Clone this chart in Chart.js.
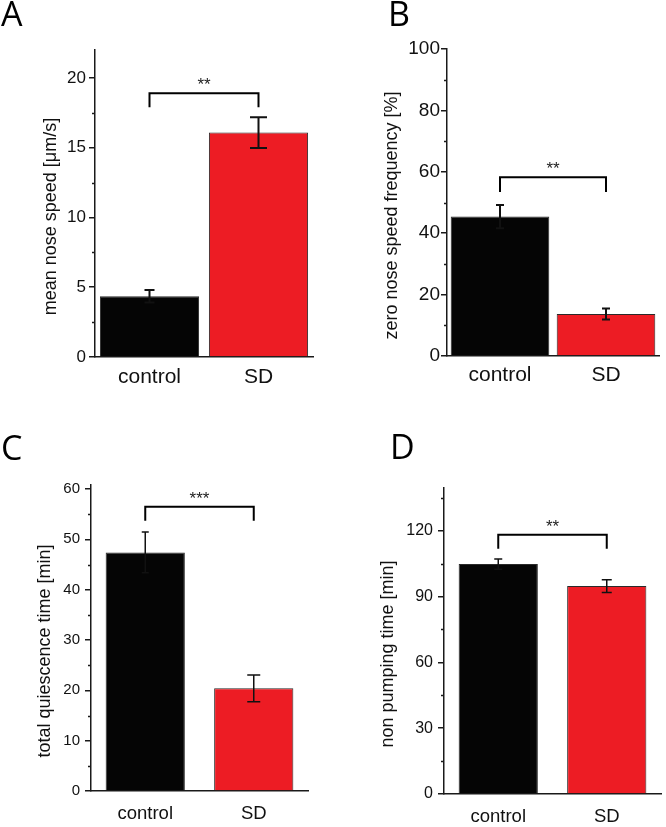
<!DOCTYPE html>
<html>
<head>
<meta charset="utf-8">
<script src="https://cdn.jsdelivr.net/npm/chart.js@4.4.1/dist/chart.umd.min.js"></script>
<style>
  body { margin: 0; background: #fff; }
  #page { position: relative; width: 666px; height: 827px; overflow: hidden; background: #fff; }
  .panel { position: absolute; }
  .letter { position: absolute; font-family: "Open Sans", sans-serif; font-size: 34px; line-height: 34px; color: #000; }
</style>
</head>
<body>
<div id="page">
  <div class="panel" style="left:0;top:0;width:333px;height:400px"><canvas id="chartA" width="333" height="400"></canvas></div>
  <div class="panel" style="left:333px;top:0;width:333px;height:400px"><canvas id="chartB" width="333" height="400"></canvas></div>
  <div class="panel" style="left:0;top:400px;width:333px;height:427px"><canvas id="chartC" width="333" height="427"></canvas></div>
  <div class="panel" style="left:333px;top:400px;width:333px;height:427px"><canvas id="chartD" width="333" height="427"></canvas></div>
  <div class="letter" style="left:1px;top:-4px">A</div>
  <div class="letter" style="left:388px;top:-4px">B</div>
  <div class="letter" style="left:1px;top:430px">C</div>
  <div class="letter" style="left:390px;top:429px">D</div>
</div>
<script>
// shared categories and bar colours
const categories = ['control', 'SD'];
const barColors = ['#050505', '#ed1c24'];

// A - mean nose speed
const speedMeans = [4.35, 16.08];
const speedErrors = [0.45, 1.1];
const speedBracket = [18.9, 17.9];   // bracket top, bracket ends
const speedTicks = [0, 5, 10, 15, 20];
const speedMinor = [2.5, 7.5, 12.5, 17.5];

// B - zero nose speed frequency
const zeroMeans = [45.4, 13.7];
const zeroErrors = [3.8, 1.8];
const zeroBracket = [58.2, 53.4];
const zeroTicks = [0, 20, 40, 60, 80, 100];
const zeroMinor = [10, 30, 50, 70, 90];

// C - total quiescence time
const quiescMeans = [47.4, 20.4];
const quiescErrors = [4.05, 2.65];
const quiescBracket = [56.5, 53.7];
const quiescTicks = [0, 10, 20, 30, 40, 50, 60];
const quiescMinor = [5, 15, 25, 35, 45, 55];

// D - non pumping time
const pumpMeans = [104.8, 94.8];
const pumpErrors = [2.3, 2.9];
const pumpBracket = [118.2, 111.8];
const pumpTicks = [0, 30, 60, 90, 120];
const pumpMinor = [15, 45, 75, 105, 135];

const AXIS = '#1a1a1a';
const FONT = '"Liberation Sans", Arial, sans-serif';

// error bars, significance bracket, minor ticks and rotated y title
function extrasPlugin(o) {
  return {
    id: 'extras',
    afterDatasetsDraw(chart) {
      const ctx = chart.ctx;
      const xs = chart.scales.x, ys = chart.scales.y;
      ctx.save();
      ctx.strokeStyle = '#111';
      ctx.lineWidth = o.errWidth;
      o.means.forEach((m, i) => {
        const x = xs.getPixelForValue(i);
        const top = ys.getPixelForValue(m + o.errors[i]);
        const bot = ys.getPixelForValue(m - o.errors[i]);
        const c = o.caps[i] / 2;
        ctx.beginPath();
        ctx.moveTo(x, top); ctx.lineTo(x, bot);
        ctx.moveTo(x - c, top); ctx.lineTo(x + c, top);
        ctx.moveTo(x - c, bot); ctx.lineTo(x + c, bot);
        ctx.stroke();
      });
      // bracket between the two bars
      const x1 = xs.getPixelForValue(0), x2 = xs.getPixelForValue(1);
      const yt = ys.getPixelForValue(o.bracket[0]);
      const ye = ys.getPixelForValue(o.bracket[1]);
      ctx.strokeStyle = '#000';
      ctx.lineWidth = 2;
      ctx.beginPath();
      ctx.moveTo(x1, ye); ctx.lineTo(x1, yt); ctx.lineTo(x2, yt); ctx.lineTo(x2, ye);
      ctx.stroke();
      ctx.fillStyle = '#222';
      ctx.font = o.starSize + 'px ' + FONT;
      ctx.textAlign = 'center';
      ctx.textBaseline = 'alphabetic';
      ctx.fillText(o.stars, (x1 + x2) / 2, yt - 3);
      ctx.restore();
    },
    afterDraw(chart) {
      const ctx = chart.ctx;
      const ys = chart.scales.y;
      ctx.save();
      ctx.strokeStyle = AXIS;
      ctx.lineWidth = 1.5;
      ctx.beginPath();
      o.minor.forEach(v => {
        const py = Math.round(ys.getPixelForValue(v)) + 0.5;
        ctx.moveTo(ys.right, py); ctx.lineTo(ys.right - 3, py);
      });
      ctx.stroke();
      ctx.fillStyle = '#111';
      ctx.font = '18px ' + FONT;
      ctx.textAlign = 'center';
      ctx.textBaseline = 'middle';
      ctx.translate(o.titleX, (ys.top + ys.bottom) / 2 + 13);
      ctx.rotate(-Math.PI / 2);
      ctx.fillText(o.title, 0, 0);
      ctx.restore();
    }
  };
}

function makePanel(id, p) {
  return new Chart(document.getElementById(id), {
    type: 'bar',
    data: {
      labels: categories,
      datasets: [{
        data: p.means,
        backgroundColor: barColors,
        borderColor: '#2a2a2a',
        borderWidth: 1,
        categoryPercentage: 1,
        barPercentage: p.barPct
      }]
    },
    options: {
      responsive: false,
      animation: false,
      events: [],
      layout: { padding: { top: p.padT, right: p.padR, bottom: 0, left: 0 } },
      plugins: { legend: { display: false }, tooltip: { enabled: false } },
      scales: {
        x: {
          grid: { display: false, drawTicks: false },
          border: { display: true, color: AXIS, width: 1.5 },
          ticks: { color: '#111', padding: p.xPad, font: { family: FONT, size: p.xFont } },
          afterFit: s => { s.height = p.xHeight; }
        },
        y: {
          min: 0,
          max: p.max,
          grid: { display: true, drawOnChartArea: false, drawTicks: true, tickLength: 6, color: AXIS, lineWidth: 1.5 },
          border: { display: true, color: AXIS, width: 1.5 },
          ticks: { color: '#111', padding: p.yPad, font: { family: FONT, size: p.yFont } },
          afterBuildTicks: s => { s.ticks = p.ticks.map(v => ({ value: v })); },
          afterFit: s => { s.width = p.yWidth; }
        }
      }
    },
    plugins: [extrasPlugin(p)]
  });
}

makePanel('chartA', {
  means: speedMeans, errors: speedErrors, bracket: speedBracket, ticks: speedTicks, minor: speedMinor,
  stars: '**', title: 'mean nose speed [μm/s]', max: 22,
  padT: 50, padR: 20, yWidth: 95, xHeight: 43, barPct: 0.91,
  xFont: 21, xPad: 8, yFont: 17, yPad: 3, titleX: 51, caps: [10, 17], errWidth: 2, starSize: 17
});
makePanel('chartB', {
  means: zeroMeans, errors: zeroErrors, bracket: zeroBracket, ticks: zeroTicks, minor: zeroMinor,
  stars: '**', title: 'zero nose speed frequency [%]', max: 100,
  padT: 49, padR: 7, yWidth: 114, xHeight: 44, barPct: 0.93,
  xFont: 21, xPad: 7, yFont: 19, yPad: 1, titleX: 59, caps: [8, 8], errWidth: 2, starSize: 17
});
makePanel('chartC', {
  means: quiescMeans, errors: quiescErrors, bracket: quiescBracket, ticks: quiescTicks, minor: quiescMinor,
  stars: '***', title: 'total quiescence time [min]', max: 60.8,
  padT: 85, padR: 25, yWidth: 91, xHeight: 36, barPct: 0.73,
  xFont: 18.5, xPad: 12, yFont: 15, yPad: 5, titleX: 45.5, caps: [7, 13], errWidth: 1.5, starSize: 17
});
makePanel('chartD', {
  means: pumpMeans, errors: pumpErrors, bracket: pumpBracket, ticks: pumpTicks, minor: pumpMinor,
  stars: '**', title: 'non pumping time [min]', max: 139.5,
  padT: 88, padR: 5, yWidth: 111, xHeight: 33, barPct: 0.73,
  xFont: 18.5, xPad: 12, yFont: 16, yPad: 5, titleX: 55.5, caps: [8, 10], errWidth: 1.5, starSize: 17
});
</script>
</body>
</html>
